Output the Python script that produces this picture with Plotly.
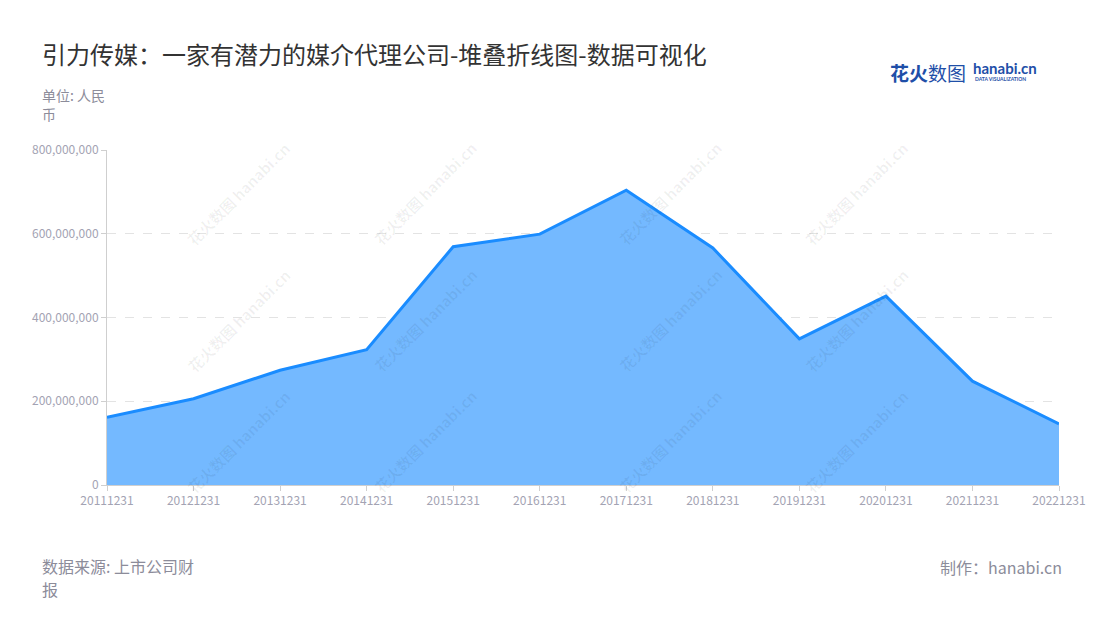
import plotly.graph_objects as go

categories = ["20111231", "20121231", "20131231", "20141231", "20151231", "20161231",
              "20171231", "20181231", "20191231", "20201231", "20211231", "20221231"]
revenue = [162e6, 206e6, 274e6, 323e6, 569e6, 599e6, 704e6, 566e6, 349e6, 451e6, 248e6, 146e6]
y_ticks = [0, 200e6, 400e6, 600e6, 800e6]

FONT = "Noto Sans CJK SC"
OFF = 8  # page body margin offset
L, R, T, B = 107, 1059, 150, 485  # plot area in screen pixels

fig = go.Figure()
fig.add_trace(go.Scatter(
    x=categories, y=revenue, mode="lines", fill="tozeroy",
    line=dict(color="#1a8cff", width=3),
    fillcolor="rgba(116,185,255,1)",
    hoverinfo="x+y",
))


def px(x, y):
    return (x - L) / (R - L), (B - y) / (B - T)


annotations = []
# watermarks
for cx in [180, 425, 670, 915]:
    for cy in [135, 320, 500]:
        wx, wy = px(cx, cy)
        annotations.append(dict(
            xref="paper", yref="paper", x=wx, y=wy,
            text="<b>花火数图 hanabi.cn</b>", showarrow=False, textangle=-45,
            font=dict(family=FONT, size=15, color="rgba(0,0,0,0.06)"),
        ))


def label(x, y, text, size, color, xanchor="left", family=FONT):
    ax, ay = px(x, y)
    annotations.append(dict(xref="paper", yref="paper", x=ax, y=ay, xanchor=xanchor, yanchor="middle",
                            text=text, showarrow=False, borderpad=0,
                            font=dict(family=family, size=size, color=color)))


label(41, 53, "引力传媒：一家有潜力的媒介代理公司-堆叠折线图-数据可视化", 24, "#333333")
label(41, 95, "单位: 人民", 14, "#8c8c9a")
label(41, 114, "币", 14, "#8c8c9a")
label(41, 566, "数据来源: 上市公司财", 16, "#8c8c9a")
label(41, 589, "报", 16, "#8c8c9a")
label(1063, 567, "制作：hanabi.cn", 16, "#8c8c9a", xanchor="right")
# logo
label(889, 72, "<b>花火</b>数图", 19, "#1f4fa8")
label(972, 68, "<b>hanabi.cn</b>", 15, "#1f4fa8", family="Lato")
label(974, 79, "<b>DATA VISUALIZATION</b>", 5, "#1f4fa8", family="Lato")

fig.update_layout(
    width=1100, height=620,
    margin=dict(l=L - OFF, r=1100 - (R - OFF), t=T - OFF, b=620 - (B - OFF)),
    plot_bgcolor="white", paper_bgcolor="white",
    showlegend=False,
    font=dict(family=FONT, color="#a3a3b3", size=12),
    annotations=annotations,
    xaxis=dict(
        type="category", range=[0, 11], showgrid=False,
        showline=True, linecolor="#cfcfcf", linewidth=1,
        ticks="outside", ticklen=5, tickcolor="#cfcfcf",
        tickfont=dict(family=FONT, size=12, color="#a3a3b3"),
        fixedrange=True,
    ),
    yaxis=dict(
        range=[0, 800e6], tickvals=y_ticks, tickformat=",",
        showgrid=True, gridcolor="#e3e3e3", griddash="dash", gridwidth=1,
        showline=True, linecolor="#cfcfcf", linewidth=1,
        ticks="outside", ticklen=5, tickcolor="#cfcfcf",
        tickfont=dict(family=FONT, size=12, color="#a3a3b3"),
        zeroline=False, fixedrange=True,
    ),
)

fig.write_html("out.html")
